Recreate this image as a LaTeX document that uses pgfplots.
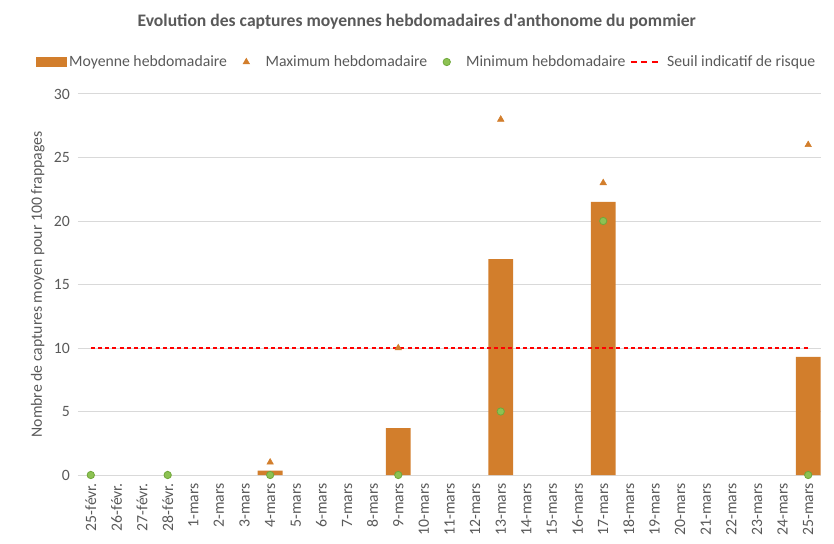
\documentclass[border=0pt]{standalone}
\usepackage{pgfplots}
\pgfplotsset{compat=1.18}
\usepackage{fontspec}
\setmainfont{Carlito}
\newfontfamily\titlefont{Carlito}[Ligatures=TeXOff]
\definecolor{barorange}{HTML}{D27E2C}
\definecolor{mingreen}{HTML}{8DC253}
\definecolor{mingreenedge}{HTML}{6FA83B}
\definecolor{textgray}{HTML}{595959}
\definecolor{gridgray}{HTML}{D9D9D9}
\newcommand\tickfont{\fontsize{11.8pt}{14pt}\selectfont}
\begin{document}
\begin{tikzpicture}
\useasboundingbox (-58.5pt,-51pt) rectangle (567pt,356.25pt);
\begin{axis}[
  at={(0pt,0pt)}, anchor=south west,
  scale only axis, width=557.25pt, height=285.75pt,
  xmin=-0.5, xmax=28.5, ymin=0, ymax=30,
  clip=false,
  axis line style={draw=none},
  major tick length=0pt,
  ytick={0,5,...,30},
  ymajorgrids, grid style={gridgray, line width=0.75pt},
  xtick={0,...,28},
  xticklabels={25-févr.,26-févr.,27-févr.,28-févr.,1-mars,2-mars,3-mars,4-mars,5-mars,6-mars,7-mars,8-mars,9-mars,10-mars,11-mars,12-mars,13-mars,14-mars,15-mars,16-mars,17-mars,18-mars,19-mars,20-mars,21-mars,22-mars,23-mars,24-mars,25-mars},
  /pgf/number format/assume math mode=true,
  xticklabel style={rotate=90, anchor=east, font=\tickfont, text=textgray, inner sep=0pt, xshift=-6pt},
  yticklabel style={font=\tickfont, text=textgray, inner sep=0pt, xshift=-6pt},
  ylabel={Nombre de captures moyen pour 100 frappages},
  ylabel style={at={(axis description cs:-0.054,0.5)}, anchor=center, font=\tickfont, text=textgray},
  title={Evolution des captures moyennes hebdomadaires d'anthonome du pommier},
  title style={at={(axis description cs:0.456,1.168)}, anchor=center, font=\titlefont\fontsize{13.2pt}{16pt}\selectfont\bfseries, text=textgray},
  legend columns=4,
  legend style={at={(axis description cs:0.468,1.084)}, anchor=center, draw=none, fill=none,
    font=\fontsize{11.8pt}{14pt}\selectfont, text=textgray,
    nodes={inner xsep=0pt, inner ysep=1pt, anchor=west},
    /tikz/every odd column/.style={column sep=0pt},
    /tikz/every even column/.style={column sep=0pt}},
]
\addplot[ybar, bar width=0.97, fill=barorange, draw=none,
  legend image code/.code={\path (0pt,-5pt) (24.75pt,5pt); \fill[barorange] (0pt,-4pt) rectangle (23.25pt,4pt);}]
  coordinates {(7,0.35) (12,3.7) (16,17) (20,21.5) (28,9.3)};
\addlegendentry{Moyenne hebdomadaire}
\addplot[only marks, mark=triangle*, mark size=2.8pt, color=barorange,
  legend image code/.code={\path (0pt,-5pt) (28.5pt,5pt); \draw[barorange, mark=triangle*, mark size=2.8pt] plot coordinates {(14.25pt,0pt)};}]
  coordinates {(0,0) (3,0) (7,1) (12,10) (16,28) (20,23) (28,26)};
\addlegendentry{Maximum hebdomadaire}
\addplot[only marks, mark=*, mark size=2.75pt, draw=mingreenedge, fill=mingreen, line width=0.6pt,
  legend image code/.code={\path (0pt,-5pt) (28.5pt,5pt); \draw[mingreenedge, fill=mingreen, line width=0.6pt, mark=*, mark size=2.75pt] plot coordinates {(14.25pt,0pt)};}]
  coordinates {(0,0) (3,0) (7,0) (12,0) (16,5) (20,20) (28,0)};
\addlegendentry{Minimum hebdomadaire}
\addplot[red, line width=1.9pt, dash pattern=on 3pt off 2.4pt,
  legend image code/.code={\path (0pt,-5pt) (29.25pt,5pt); \draw[red, line width=1.9pt, dash pattern=on 4.5pt off 3.4pt] (3pt,0pt) -- (26.25pt,0pt);}]
  coordinates {(0,10) (28,10)};
\addlegendentry{Seuil indicatif de risque}
\end{axis}
\end{tikzpicture}
\end{document}
